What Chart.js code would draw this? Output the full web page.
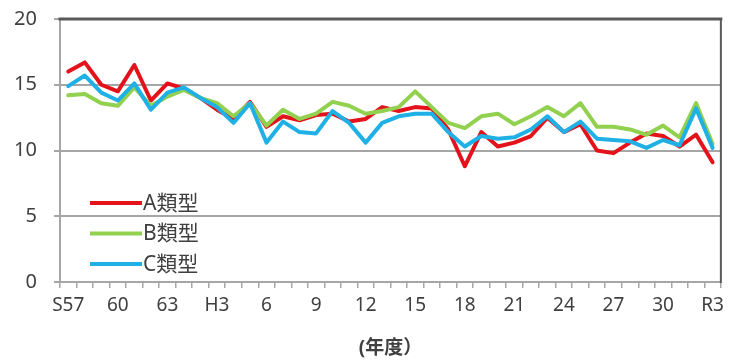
<!DOCTYPE html>
<html><head><meta charset="utf-8">
<script src="https://cdn.jsdelivr.net/npm/chart.js@4"></script>
<style>html,body{margin:0;padding:0;background:#fff}#wrap{width:730px;height:360px;position:relative}</style>
</head><body><div id="wrap"><canvas id="c" width="730" height="360"></canvas></div>
<script>
const categories = ['S57','58','59','60','61','62','63','H1','H2','H3','4','5','6','7','8','9','10','11','12','13','14','15','16','17','18','19','20','21','22','23','24','25','26','27','28','29','30','R1','R2','R3'];
const seriesNames = ['A類型','B類型','C類型'];
const seriesA = [16.0,16.7,15.0,14.5,16.5,13.8,15.1,14.7,14.0,13.1,12.4,13.7,11.8,12.6,12.3,12.7,12.8,12.2,12.4,13.3,13.0,13.3,13.2,11.6,8.8,11.4,10.3,10.6,11.1,12.5,11.4,12.0,10.0,9.8,10.6,11.3,11.1,10.3,11.2,9.1];
const seriesB = [14.2,14.3,13.6,13.4,14.8,13.4,14.1,14.6,14.0,13.6,12.6,13.6,11.9,13.1,12.4,12.8,13.7,13.4,12.8,13.0,13.3,14.5,13.3,12.1,11.7,12.6,12.8,12.0,12.6,13.3,12.6,13.6,11.8,11.8,11.6,11.2,11.9,11.0,13.6,10.5];
const seriesC = [14.9,15.7,14.4,13.8,15.1,13.1,14.4,14.8,14.0,13.3,12.1,13.6,10.6,12.2,11.4,11.3,13.0,12.1,10.6,12.1,12.6,12.8,12.8,11.4,10.3,11.1,10.9,11.0,11.6,12.6,11.4,12.2,10.9,10.8,10.7,10.2,10.8,10.4,13.2,10.2];
const yTicks = [0,5,10,15,20];
const xTitle = '(年度）';
const colors = ['#e3121b','#92d050','#1fb1e6'];

const FONT = "'Noto Sans','Noto Sans CJK JP',sans-serif";

const frame = {
  id:'frame',
  afterDatasetsDraw(chart){
    const {ctx, chartArea:a} = chart;
    ctx.save();
    ctx.strokeStyle='#595959'; ctx.lineCap='square';
    ctx.lineWidth=3;
    ctx.beginPath(); ctx.moveTo(a.left,a.top); ctx.lineTo(a.right,a.top); ctx.stroke();
    ctx.lineWidth=2;
    ctx.beginPath(); ctx.moveTo(a.right,a.top); ctx.lineTo(a.right,a.bottom); ctx.stroke();
    ctx.restore();
  }
};
const legend = {
  id:'customLegend',
  afterDraw(chart){
    const {ctx} = chart;
    ctx.save();
    chart.data.datasets.forEach((ds,i)=>{
      const y = 203 + i*30.5;
      ctx.strokeStyle = ds.borderColor; ctx.lineWidth=4; ctx.lineCap='butt';
      ctx.beginPath(); ctx.moveTo(90,y); ctx.lineTo(142,y); ctx.stroke();
      ctx.fillStyle='#404040'; ctx.font="21px "+FONT; ctx.textBaseline='middle'; ctx.textAlign='left';
      ctx.fillText(ds.label, 143, y+1);
    });
    ctx.restore();
  }
};

new Chart(document.getElementById('c'),{
  type:'line',
  data:{
    labels:categories,
    datasets:[
      {label:seriesNames[0],data:seriesA,borderColor:colors[0],order:3},
      {label:seriesNames[1],data:seriesB,borderColor:colors[1],order:2},
      {label:seriesNames[2],data:seriesC,borderColor:colors[2],order:1}
    ].map(d=>Object.assign(d,{borderWidth:4,pointRadius:0,tension:0,fill:false,borderJoinStyle:'round',borderCapStyle:'round'}))
  },
  options:{
    responsive:false,animation:false,
    layout:{padding:{left:0,right:4,top:19,bottom:0}},
    plugins:{legend:{display:false},tooltip:{enabled:false}},
    scales:{
      x:{
        offset:true,
        grid:{display:true,drawOnChartArea:false,offset:true,tickLength:6,color:'#a6a6a6',lineWidth:1.5},
        border:{display:true,color:'#a6a6a6',width:2},
        ticks:{autoSkip:false,maxRotation:0,padding:6,color:'#404040',font:{family:FONT,size:19},
          callback:(v,i)=> i%3===0 ? categories[i] : ''},
        title:{display:true,text:xTitle,color:'#404040',font:{family:FONT,size:19,weight:'bold'},padding:{top:0,bottom:0}},
        afterFit:s=>{s.height=78;}
      },
      y:{
        min:0,max:20,
        afterBuildTicks:s=>{s.ticks=yTicks.map(v=>({value:v}));},
        grid:{color:'#a6a6a6',lineWidth:2,tickLength:6},
        border:{display:true,color:'#a6a6a6',width:2},
        ticks:{padding:17,color:'#404040',font:{family:FONT,size:20}},
        afterFit:s=>{s.width=60;s.paddingTop=0;s.paddingBottom=0;}
      }
    }
  },
  plugins:[frame,legend]
});
</script></body></html>
